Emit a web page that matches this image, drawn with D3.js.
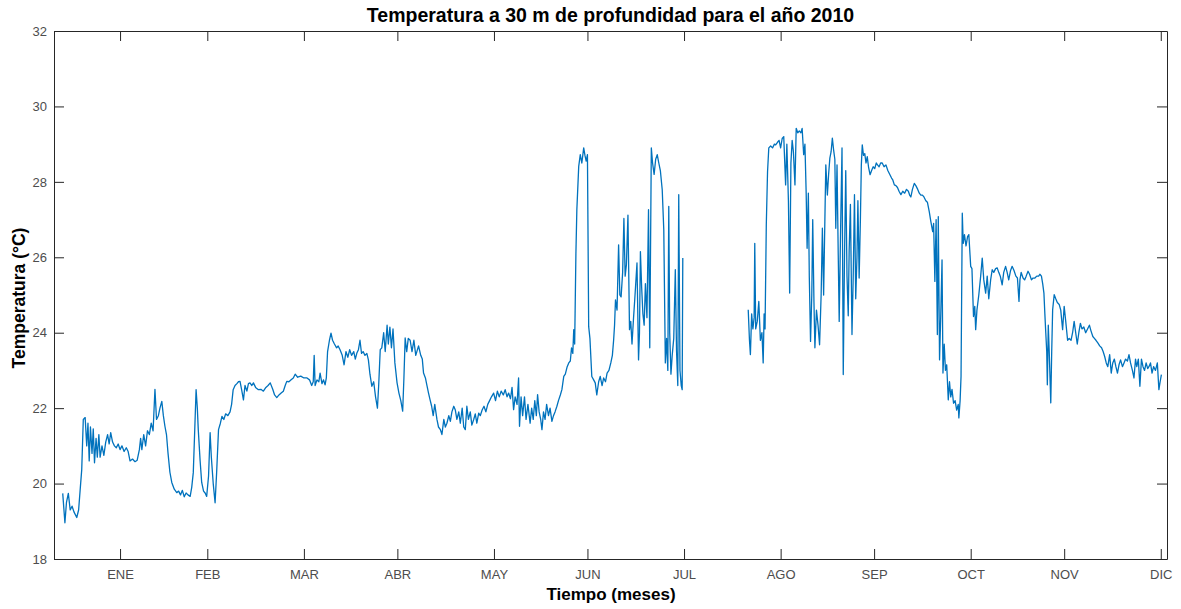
<!DOCTYPE html>
<html>
<head>
<meta charset="utf-8">
<script src="https://cdn.jsdelivr.net/npm/d3@7"></script>
<style>
  body { margin: 0; background: #fff; }
  text { font-family: "Liberation Sans", Arial, sans-serif; }
</style>
</head>
<body>
<script>
// Month ticks (day of year at end of each month)
var mesesLabels = ["ENE","FEB","MAR","ABR","MAY","JUN","JUL","AGO","SEP","OCT","NOV","DIC"];
var mesesDias = [31, 59, 90, 120, 151, 181, 212, 243, 273, 304, 334, 365];
var yTicks = [18, 20, 22, 24, 26, 28, 30, 32];

// First block of measurements (day of year, temperature in C)
var diasA = [12.6,13.3,13.8,14.4,15.0,15.6,16.2,17.1,17.7,18.2,18.7,19.2,19.8,20.3,20.7,21.1,21.5,22.0,22.4,22.8,
  23.3,23.7,24.2,24.6,25.2,25.8,26.4,27.0,27.5,28.0,28.6,29.2,29.8,30.4,31.0,31.6,32.3,33.0,33.6,34.2,
  35.0,35.8,36.5,37.2,37.6,38.0,38.6,39.2,39.8,40.4,41.0,41.6,42.2,42.7,43.3,43.8,44.4,44.9,45.4,45.9,
  46.4,47.0,47.6,48.4,49.2,49.8,50.4,51.0,51.6,52.2,52.8,53.5,54.0,54.5,55.0,55.4,55.8,56.1,56.7,57.2,
  57.8,58.3,58.8,59.4,59.9,60.3,60.9,61.5,62.0,62.6,63.2,63.7,64.3,64.9,65.6,66.3,66.8,67.3,67.9,68.5,
  69.0,69.5,70.0,70.6,71.1,71.7,72.2,72.7,73.3,73.8,74.5,75.4,76.2,77.0,77.8,78.5,79.2,80.0,80.6,81.3,
  82.0,82.7,83.4,84.0,84.5,85.2,85.9,86.6,87.2,88.0,89.0,90.0,91.0,91.8,92.5,93.0,93.3,93.6,94.2,94.8,
  95.2,95.8,96.3,96.8,97.2,97.6,98.2,98.7,99.2,99.8,100.5,101.0,101.6,102.3,102.9,103.5,104.1,104.7,105.3,106.0,
  106.5,107.0,107.5,108.0,108.5,109.0,109.6,110.2,110.7,111.2,111.8,112.4,113.0,113.6,114.0,114.5,115.0,115.6,116.1,116.7,
  117.1,117.6,118.1,118.6,119.2,119.9,120.5,121.1,121.7,122.1,122.5,123.0,123.5,124.1,124.7,125.3,125.9,126.8,127.5,128.0,
  128.4,129.0,129.5,130.0,130.5,131.0,131.5,132.0,132.7,133.2,133.8,134.3,134.9,135.4,135.9,136.5,137.0,137.5,138.1,138.6,
  139.1,139.7,140.2,140.8,141.3,141.8,142.3,142.8,143.4,143.9,144.5,145.0,145.5,146.1,146.6,147.2,147.8,148.4,149.0,149.6,
  150.2,150.9,151.5,152.1,152.7,153.3,154.0,154.6,155.2,155.7,156.3,156.8,157.3,157.8,158.4,158.9,159.2,159.7,160.2,160.8,
  161.3,161.9,162.6,163.1,163.6,164.1,164.6,165.0,165.5,166.0,166.4,166.9,167.4,167.9,168.5,169.0,169.6,170.1,170.6,171.2,
  171.7,172.3,172.8,173.4,173.9,174.5,175.0,175.5,175.9,176.3,176.6,176.9,177.3,177.6,178.2,178.7,179.2,179.8,180.2,180.6,
  181.0,181.4,181.8,182.4,183.0,183.5,184.0,184.6,185.1,185.7,186.2,186.8,187.3,187.9,188.5,189.0,189.4,189.7,190.0,190.5,
  191.0,191.4,191.8,192.3,192.7,193.1,193.5,194.0,194.5,194.9,195.3,195.8,196.2,196.9,197.4,197.7,198.0,198.4,198.8,199.2,
  199.6,200.1,200.6,201.0,201.5,201.9,202.4,202.9,203.4,203.9,204.4,205.0,205.5,206.0,206.4,206.8,207.1,207.4,207.8,208.2,
  208.7,209.2,209.6,210.0,210.3,210.7,211.1,211.4,211.6];
var tempA = [19.74,18.96,19.5,19.74,19.3,19.4,19.25,19.1,19.3,19.84,20.37,21.7,21.75,21.0,21.6,20.6,21.5,20.8,21.45,20.55,
  21.2,20.7,21.3,20.7,21.0,20.75,21.1,21.3,21.05,21.35,21.1,21.0,20.95,21.05,20.9,21.0,20.85,20.95,20.85,20.6,
  20.65,20.58,20.62,20.9,21.2,20.9,21.3,21.0,21.4,21.3,21.6,21.4,22.5,21.7,21.8,22.0,22.18,21.8,21.52,21.3,
  20.8,20.3,20.03,19.85,19.76,19.8,19.7,19.82,19.65,19.75,19.7,19.66,19.9,20.29,21.5,22.49,22.0,21.43,20.6,20.03,
  19.8,19.75,19.66,20.2,21.35,20.7,20.0,19.49,20.3,21.43,21.6,21.78,21.7,21.85,21.8,21.9,22.1,22.49,22.6,22.65,
  22.7,22.71,22.5,22.22,22.6,22.45,22.65,22.67,22.6,22.67,22.55,22.49,22.5,22.45,22.55,22.6,22.67,22.5,22.35,22.28,
  22.35,22.4,22.45,22.6,22.71,22.7,22.75,22.8,22.9,22.82,22.85,22.8,22.8,22.75,22.6,22.7,23.4,22.6,22.75,22.7,
  22.93,22.65,22.75,22.62,22.8,23.5,23.8,23.99,23.8,23.7,23.6,23.65,23.55,23.4,23.15,23.5,23.35,23.55,23.4,23.5,
  23.3,23.46,23.55,23.8,23.45,23.5,23.4,23.45,23.28,22.9,22.58,22.7,22.3,22.0,22.6,23.55,23.6,24.0,23.5,24.2,
  23.7,24.15,23.6,24.1,23.2,22.67,22.4,22.2,21.92,22.8,23.86,23.5,23.85,23.8,23.5,23.8,23.4,23.65,23.4,23.3,
  22.93,22.8,22.6,22.4,22.22,22.05,21.8,22.1,21.7,21.5,21.43,21.3,21.7,21.5,21.6,21.8,21.65,21.9,22.05,21.95,
  21.7,21.9,21.6,22.0,21.5,21.43,22.05,21.7,21.9,21.55,21.7,21.85,21.6,21.87,21.8,21.95,22.05,21.9,22.1,22.2,
  22.3,22.4,22.2,22.45,22.3,22.45,22.35,22.49,22.3,22.4,22.25,22.55,21.96,22.3,22.1,22.8,21.52,22.3,21.8,22.3,
  21.7,22.1,21.6,22.0,21.7,22.2,21.8,22.36,21.9,21.7,21.43,21.9,21.7,22.1,21.8,22.0,21.65,21.8,21.9,22.05,
  22.2,22.35,22.49,22.84,22.9,23.1,23.2,23.25,23.6,23.45,24.08,23.7,26.11,27.26,28.41,28.72,28.5,28.9,28.7,28.55,
  28.72,24.16,23.85,22.84,22.75,22.67,22.35,22.7,22.84,22.6,22.8,22.7,22.93,23.0,23.2,23.4,23.8,24.2,24.87,24.6,
  26.33,25.0,24.95,25.6,27.03,25.5,25.8,27.12,24.08,24.3,23.7,24.4,24.9,25.85,23.28,24.0,26.15,25.2,24.5,24.2,
  25.3,24.4,27.26,23.6,28.9,28.5,28.2,28.6,28.72,28.5,28.3,27.79,26.73,23.2,23.85,23.0,27.35,24.0,22.9,23.4,
  23.85,25.67,23.5,22.6,27.66,23.0,22.6,22.49,25.98];

// Second block of measurements after the gap
var diasB = [232.6,233.0,233.3,233.7,234.1,234.5,234.7,235.0,235.5,236.0,236.5,237.0,237.4,237.7,238.0,238.4,238.8,239.2,239.8,240.4,
  241.0,241.4,242.0,242.5,243.0,243.5,244.0,244.6,245.0,245.5,245.9,246.3,246.7,247.1,247.6,248.0,248.5,249.0,249.5,249.9,
  250.4,250.8,251.2,251.5,251.9,252.2,252.6,253.0,253.3,253.7,254.0,254.5,255.0,255.5,256.0,256.4,256.8,257.1,257.5,258.0,
  258.4,258.8,259.2,259.6,260.0,260.4,260.7,261.1,261.5,261.8,262.2,262.7,263.1,263.5,263.9,264.3,264.7,265.0,265.4,265.9,
  266.3,266.7,267.1,267.5,267.8,268.2,268.6,268.9,269.2,269.6,270.0,270.4,270.8,271.2,271.7,272.2,272.7,273.2,273.7,274.1,
  274.6,275.1,275.6,276.2,276.8,277.4,278.0,278.6,279.0,279.5,280.0,280.5,281.0,281.6,282.2,282.8,283.4,284.0,284.4,284.8,
  285.3,285.9,286.4,287.0,287.5,288.0,288.5,289.0,289.6,290.1,290.7,291.2,291.8,292.1,292.5,292.9,293.3,293.6,294.0,294.4,
  294.8,295.1,295.5,295.9,296.3,296.8,297.2,297.6,298.0,298.5,299.0,299.5,300.0,300.2,300.6,300.9,301.3,301.6,302.0,302.5,
  303.0,303.4,304.0,304.4,304.9,305.3,305.6,306.0,306.6,307.2,307.7,308.2,308.8,309.3,309.8,310.4,310.9,311.4,312.0,312.5,
  313.0,313.5,314.1,314.6,315.2,315.7,316.2,316.8,317.3,317.9,318.5,319.0,319.5,319.8,320.2,320.8,321.3,321.8,322.4,322.9,
  323.5,324.0,324.6,325.2,325.8,326.2,326.7,327.1,327.5,327.8,328.1,328.4,328.6,328.9,329.2,329.7,330.0,330.3,330.8,331.3,
  331.8,332.4,332.9,333.5,334.0,334.5,335.1,335.6,336.2,336.7,337.2,337.7,338.2,338.7,339.2,339.7,340.3,340.9,341.5,342.1,
  342.6,343.2,343.7,344.2,344.8,345.4,346.0,346.5,347.0,347.5,348.0,348.6,349.1,349.6,350.1,350.6,351.1,351.6,352.1,352.7,
  353.2,353.7,354.3,354.8,355.3,355.9,356.4,356.9,357.3,357.8,358.3,358.8,359.3,359.8,360.3,360.8,361.2,361.7,362.2,362.7,
  363.3,363.9,364.4,364.8,365.2];
var tempB = [24.61,23.8,23.42,24.5,24.1,24.4,26.37,24.1,24.3,24.83,23.8,24.0,23.2,24.5,24.1,26.86,28.27,28.9,28.95,28.9,
  29.0,28.98,29.05,29.1,28.9,29.15,29.2,27.92,29.0,27.5,25.05,28.5,29.1,28.8,27.92,29.42,29.3,29.35,29.3,29.42,
  28.72,29.0,27.7,26.24,27.7,25.5,23.77,25.0,27.0,24.8,23.6,24.6,24.2,23.68,25.0,26.77,25.0,26.5,28.45,27.65,
  28.2,28.63,28.8,29.16,28.85,28.6,26.77,28.45,26.0,24.3,26.5,28.9,22.89,26.0,28.3,25.5,24.45,26.2,27.4,23.95,
  25.5,27.66,24.9,26.0,27.5,25.45,27.0,28.45,28.98,28.7,28.75,28.5,28.67,28.4,28.19,28.3,28.4,28.35,28.5,28.45,
  28.4,28.5,28.5,28.4,28.45,28.3,28.2,28.1,28.05,27.92,27.9,27.85,27.75,27.66,27.75,27.7,27.8,27.75,27.65,27.6,
  27.8,27.96,27.9,27.8,27.7,27.65,27.65,27.6,27.5,27.46,27.21,26.95,26.68,26.9,25.36,27.0,23.95,27.08,23.28,24.5,
  25.93,22.93,23.7,23.0,23.15,22.22,22.7,22.3,22.5,22.13,22.2,21.95,22.1,21.74,22.2,22.84,27.17,26.37,26.6,26.3,
  26.55,26.6,25.76,25.7,24.43,24.7,24.08,24.6,25.0,25.5,25.98,25.4,25.05,25.5,24.9,25.4,25.67,25.6,25.7,25.72,
  25.6,25.5,25.27,25.6,25.76,25.6,25.4,25.65,25.76,25.65,25.5,25.45,24.83,25.4,25.6,25.45,25.4,25.5,25.63,25.55,
  25.4,25.45,25.45,25.5,25.5,25.55,25.5,25.3,25.05,24.5,23.99,23.5,22.62,24.2,23.5,22.14,23.5,24.61,25.01,24.9,
  24.8,24.75,24.6,24.08,24.7,24.3,23.8,23.85,23.8,24.0,24.3,24.0,23.7,24.0,24.25,24.1,24.15,24.0,24.1,24.2,
  24.05,23.9,23.85,23.8,23.73,23.65,23.6,23.5,23.37,23.2,23.1,23.42,22.93,23.2,23.3,23.1,22.93,23.15,23.28,23.1,
  23.2,23.3,23.25,23.42,23.2,23.0,22.8,23.3,23.1,23.3,22.58,23.3,23.1,23.0,23.2,23.05,23.1,23.2,22.93,23.1,
  23.0,23.2,22.49,22.7,22.89];

var width = 1181, height = 609;
var margin = {top: 31, right: 14, bottom: 50, left: 54};
var innerW = width - margin.left - margin.right;
var innerH = height - margin.top - margin.bottom;
var axisColor = "#262626";
var tickLen = 10;

var svg = d3.select("body").append("svg")
  .attr("width", width)
  .attr("height", height);

var g = svg.append("g")
  .attr("transform", "translate(" + margin.left + "," + margin.top + ")");

var x = d3.scaleLinear().domain([9.8, 367]).range([0, innerW]);
var y = d3.scaleLinear().domain([18, 32]).range([innerH, 0]);

// join both blocks with a null gap so the line breaks
var puntos = [];
for (var i = 0; i < diasA.length; i++) puntos.push({d: diasA[i], t: tempA[i]});
puntos.push({d: 222, t: null});
for (var j = 0; j < diasB.length; j++) puntos.push({d: diasB[j], t: tempB[j]});

var line = d3.line()
  .defined(function(p) { return p.t !== null; })
  .x(function(p) { return x(p.d); })
  .y(function(p) { return y(p.t); });

g.append("path")
  .datum(puntos)
  .attr("d", line)
  .attr("fill", "none")
  .attr("stroke", "#0072BD")
  .attr("stroke-width", 1.3)
  .attr("stroke-linejoin", "round");

// axes, MATLAB style: ticks inside, box on all sides
var xBottom = d3.axisBottom(x).tickValues(mesesDias)
  .tickFormat(function(d, i) { return mesesLabels[i]; })
  .tickSizeInner(-tickLen).tickSizeOuter(0).tickPadding(11);
var xTop = d3.axisTop(x).tickValues(mesesDias).tickFormat("")
  .tickSizeInner(-tickLen).tickSizeOuter(0);
var yLeft = d3.axisLeft(y).tickValues(yTicks)
  .tickSizeInner(-tickLen).tickSizeOuter(0).tickPadding(7);
var yRight = d3.axisRight(y).tickValues(yTicks).tickFormat("")
  .tickSizeInner(-tickLen).tickSizeOuter(0);

var axes = [
  g.append("g").attr("transform", "translate(0," + innerH + ")").call(xBottom),
  g.append("g").call(xTop),
  g.append("g").call(yLeft),
  g.append("g").attr("transform", "translate(" + innerW + ",0)").call(yRight)
];
axes.forEach(function(a) {
  a.select(".domain").attr("stroke", axisColor).attr("stroke-width", 1);
  a.selectAll(".tick line").attr("stroke", axisColor).attr("stroke-width", 1);
  a.selectAll(".tick text")
    .attr("fill", "#4d4d4d")
    .style("font-size", "13px")
    .style("font-family", "'Liberation Sans', Arial, sans-serif");
});

// title and labels
svg.append("text")
  .attr("x", margin.left + innerW / 2)
  .attr("y", 22)
  .attr("text-anchor", "middle")
  .style("font-size", "19.5px")
  .style("font-weight", "bold")
  .attr("fill", "#000")
  .text("Temperatura a 30 m de profundidad para el año 2010");

svg.append("text")
  .attr("x", 611)
  .attr("y", 600)
  .attr("text-anchor", "middle")
  .style("font-size", "17px")
  .style("font-weight", "bold")
  .attr("fill", "#000")
  .text("Tiempo (meses)");

svg.append("text")
  .attr("transform", "translate(25,298) rotate(-90)")
  .attr("text-anchor", "middle")
  .style("font-size", "17.5px")
  .style("font-weight", "bold")
  .attr("fill", "#000")
  .text("Temperatura (°C)");
</script>
</body>
</html>
